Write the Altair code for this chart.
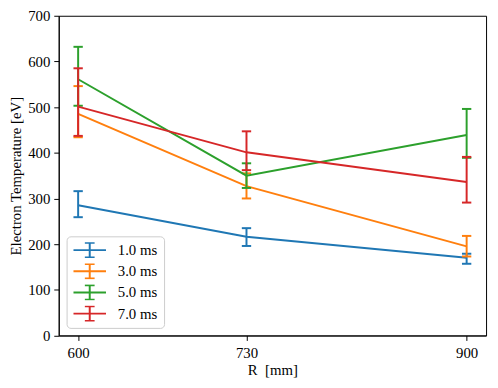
import altair as alt
import pandas as pd

# Data
R = [600, 730, 900]
series = ["1.0 ms", "3.0 ms", "5.0 ms", "7.0 ms"]
colors = ["#1f77b4", "#ff7f0e", "#2ca02c", "#d62728"]

te_1 = [285, 216, 170]
lo_1 = [259, 196, 157]
hi_1 = [316, 235, 179]

te_3 = [485, 327, 195]
lo_3 = [434, 300, 173]
hi_3 = [546, 355, 218]

te_5 = [561, 350, 439]
lo_5 = [503, 323, 389]
hi_5 = [632, 377, 496]

te_7 = [501, 401, 336]
lo_7 = [437, 362, 291]
hi_7 = [585, 447, 391]

y_ticks = [0, 100, 200, 300, 400, 500, 600, 700]

rows = []
for name, te, lo, hi in zip(series, [te_1, te_3, te_5, te_7], [lo_1, lo_3, lo_5, lo_7], [hi_1, hi_3, hi_5, hi_7]):
    for r, t, l, h in zip(R, te, lo, hi):
        rows.append({"R": r, "Te": t, "lo": l, "hi": h, "series": name})
df = pd.DataFrame(rows)

FONT = "Liberation Serif"
FS = 15

xscale = alt.Scale(domain=[585, 915], nice=False, zero=False)
yscale = alt.Scale(domain=[0, 700], nice=False)
color = alt.Color("series:N", scale=alt.Scale(domain=series, range=colors),
                  legend=alt.Legend(title=None, orient="bottom-left", offset=8))

xaxis = alt.Axis(values=R, title="R\u00a0\u00a0[mm]", format="d", grid=False)
yaxis = alt.Axis(values=y_ticks, title="Electron Temperature [eV]", grid=False)

layers = []
for name in series:
    base = alt.Chart(df).transform_filter(alt.datum.series == name)
    line = base.mark_line(strokeWidth=2).encode(
        x=alt.X("R:Q", scale=xscale, axis=xaxis),
        y=alt.Y("Te:Q", scale=yscale, axis=yaxis),
        color=color,
    )
    bars = base.mark_rule(strokeWidth=2).encode(
        x=alt.X("R:Q", scale=xscale),
        y=alt.Y("lo:Q", scale=yscale),
        y2="hi:Q",
        color=color,
    )
    cap_lo = base.mark_point(shape="M-1,0H1", size=90, filled=False, strokeWidth=2, opacity=1).encode(
        x=alt.X("R:Q", scale=xscale),
        y=alt.Y("lo:Q", scale=yscale),
        color=color,
    )
    cap_hi = base.mark_point(shape="M-1,0H1", size=90, filled=False, strokeWidth=2, opacity=1).encode(
        x=alt.X("R:Q", scale=xscale),
        y=alt.Y("hi:Q", scale=yscale),
        color=color,
    )
    layers += [line, bars, cap_lo, cap_hi]

chart = alt.layer(*layers).properties(
    width=434,
    height=324.7,
    autosize=alt.AutoSizeParams(type="none"),
    padding={"left": 51.5, "top": 5, "right": 4, "bottom": 42},
).configure_view(
    stroke="black", strokeWidth=1
).configure_axis(
    domainColor="black", tickColor="black", labelColor="black", titleColor="black",
    labelFont=FONT, titleFont=FONT, labelFontSize=FS, titleFontSize=FS,
    titleFontWeight="normal", tickSize=5, labelPadding=4, domainWidth=1, tickWidth=1,
).configure_axisY(
    titlePadding=4,
).configure_axisX(
    titlePadding=3, labelPadding=5,
).configure_legend(
    labelFont=FONT, labelFontSize=FS, labelColor="black",
    symbolType="M-1,0H1M0,-0.45V0.45M-0.3,-0.45H0.3M-0.3,0.45H0.3",
    symbolSize=1089, symbolStrokeWidth=2,
    fillColor="white", strokeColor="#cccccc", cornerRadius=4, padding=6,
    clipHeight=16, rowPadding=5.5, labelOffset=11,
)

chart.save("out.html", embed_options={"renderer": "svg", "actions": False})
